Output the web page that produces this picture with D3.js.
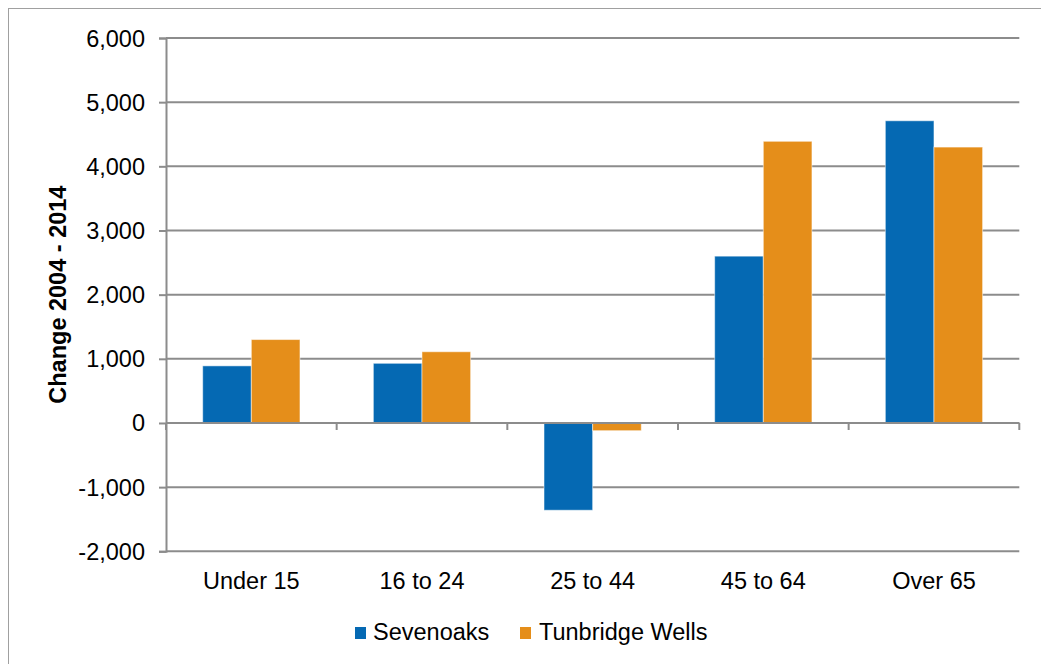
<!DOCTYPE html>
<html>
<head>
<meta charset="utf-8">
<script src="https://cdn.jsdelivr.net/npm/d3@7"></script>
<style>
  html, body { margin: 0; padding: 0; background: #fff; }
  svg { display: block; font-family: "Liberation Sans", Arial, sans-serif; }
</style>
</head>
<body>
<svg id="chart" width="1041" height="664"></svg>
<script>
// Population change by age group, 2004 - 2014
const categories = ["Under 15", "16 to 24", "25 to 44", "45 to 64", "Over 65"];
const seriesNames = ["Sevenoaks", "Tunbridge Wells"];
const sevenoaks = [890, 930, -1360, 2600, 4710];
const tunbridgeWells = [1300, 1110, -120, 4390, 4300];
const yTicks = [-2000, -1000, 0, 1000, 2000, 3000, 4000, 5000, 6000];
const colors = ["#0569b3", "#e58e1a"];

const svg = d3.select("#chart");
const fontSize = 23.5;
const gridColor = "#8c8c8c";

// thousands separator with a plain hyphen for negatives
const fmtThousands = d3.format(",");
const tickFormat = d => (d < 0 ? "-" : "") + fmtThousands(Math.abs(d));

// outer chart border (runs off the right and bottom edges)
svg.append("rect")
  .attr("x", 8.5).attr("y", 8.5)
  .attr("width", 1060).attr("height", 700)
  .attr("fill", "none").attr("stroke", "#a0a0a0").attr("stroke-width", 1);

const plot = { left: 166, right: 1019.3, top: 38, bottom: 551.3 };

const x = d3.scaleBand()
  .domain(categories)
  .range([plot.left, plot.right])
  .paddingInner(0.43)
  .paddingOuter(0.215);

const xs = d3.scaleBand().domain(seriesNames).range([0, x.bandwidth()]);

const y = d3.scaleLinear().domain([-2000, 6000]).range([plot.bottom, plot.top]);

// horizontal gridlines
svg.append("g")
  .selectAll("line")
  .data(yTicks)
  .join("line")
  .attr("x1", plot.left).attr("x2", plot.right)
  .attr("y1", d => y(d)).attr("y2", d => y(d))
  .attr("stroke", gridColor).attr("stroke-width", 2);

// value axis
const yAxis = svg.append("g")
  .attr("transform", `translate(${plot.left},0)`)
  .call(d3.axisLeft(y).tickValues(yTicks).tickSize(7).tickPadding(14)
    .tickFormat(tickFormat));
yAxis.select(".domain").attr("stroke", gridColor).attr("stroke-width", 2);
yAxis.selectAll(".tick line").attr("stroke", gridColor).attr("stroke-width", 2);
yAxis.selectAll(".tick text")
  .attr("font-size", fontSize).attr("fill", "#000")
  .attr("font-family", "Liberation Sans, Arial, sans-serif")
  .attr("dy", "0.34em");

// bars
const rows = categories.map((c, i) => ({ cat: c, values: [sevenoaks[i], tunbridgeWells[i]] }));
const groups = svg.append("g")
  .selectAll("g")
  .data(rows)
  .join("g")
  .attr("transform", d => `translate(${x(d.cat)},0)`);

groups.selectAll("rect")
  .data(d => d.values.map((v, j) => ({ name: seriesNames[j], v, j })))
  .join("rect")
  .attr("x", d => xs(d.name))
  .attr("width", xs.bandwidth())
  .attr("y", d => y(Math.max(0, d.v)))
  .attr("height", d => Math.abs(y(d.v) - y(0)))
  .attr("fill", d => colors[d.j])
  .attr("stroke", "rgba(255,255,255,0.5)")
  .attr("stroke-width", 1);

// category axis along zero
const boundaries = d3.range(categories.length + 1).map(i => plot.left + i * (plot.right - plot.left) / categories.length);
svg.append("line")
  .attr("x1", plot.left).attr("x2", plot.right)
  .attr("y1", y(0)).attr("y2", y(0))
  .attr("stroke", gridColor).attr("stroke-width", 2);
svg.append("g")
  .selectAll("line")
  .data(boundaries)
  .join("line")
  .attr("x1", d => d).attr("x2", d => d)
  .attr("y1", y(0)).attr("y2", y(0) + 7)
  .attr("stroke", gridColor).attr("stroke-width", 2);

// category labels below the plot
svg.append("g")
  .selectAll("text")
  .data(categories)
  .join("text")
  .attr("x", d => x(d) + x.bandwidth() / 2)
  .attr("y", 589)
  .attr("text-anchor", "middle")
  .attr("font-size", fontSize)
  .attr("fill", "#000")
  .text(d => d);

// value axis title
svg.append("text")
  .attr("transform", `translate(66,${(plot.top + plot.bottom) / 2}) rotate(-90)`)
  .attr("text-anchor", "middle")
  .attr("font-size", fontSize)
  .attr("font-weight", "bold")
  .attr("fill", "#000")
  .text("Change 2004 - 2014");

// legend
const legendItems = [
  { name: seriesNames[0], color: colors[0], sx: 355, tx: 373 },
  { name: seriesNames[1], color: colors[1], sx: 520, tx: 539 }
];
const legend = svg.append("g");
legend.selectAll("rect")
  .data(legendItems)
  .join("rect")
  .attr("x", d => d.sx).attr("y", 627)
  .attr("width", 11).attr("height", 12)
  .attr("fill", d => d.color);
legend.selectAll("text")
  .data(legendItems)
  .join("text")
  .attr("x", d => d.tx).attr("y", 640)
  .attr("font-size", fontSize)
  .attr("fill", "#000")
  .text(d => d.name);
</script>
</body>
</html>
